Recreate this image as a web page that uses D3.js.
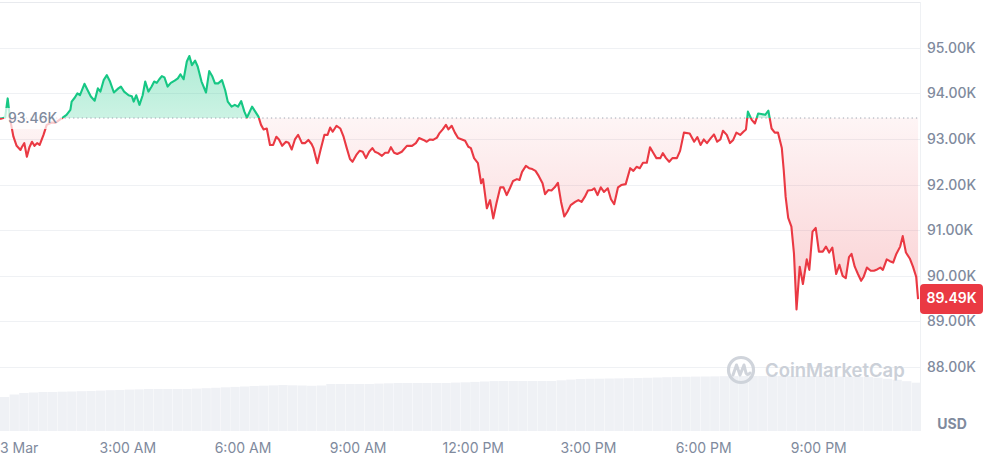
<!DOCTYPE html>
<html><head><meta charset="utf-8">
<script src="https://cdn.jsdelivr.net/npm/d3@7"></script>
<style>
html,body{margin:0;padding:0;background:#fff;overflow:hidden}
svg{display:block;font-family:Inter,"Noto Sans",sans-serif}
</style></head><body>
<svg id="chart" width="985" height="456"></svg>
<script>
// minutes after 00:00 on 3 Mar (negative = 2 Mar)
const minutes = [
-19,-11,-7,-3,2,7,13,15,19,23,27,
31,35,39,43,46,49,54,62,67,74,
78,85,91,93,98,102,106,113,118,123,
129,134,138,143,148,153,159,166,170,175,
182,187,190,194,199,204,208,213,218,222,
226,230,234,238,243,248,254,259,263,268,
273,277,281,286,290,296,303,308,313,317,
322,328,333,337,343,348,353,358,363,367,
370,375,380,385,389,393,398,403,408,413,
417,422,428,432,437,442,447,453,458,463,
468,471,477,482,488,493,497,501,507,513,
518,523,528,532,538,543,548,553,558,563,
567,572,578,583,588,592,597,602,609,617,
625,631,636,643,648,653,658,664,668,673,
678,682,687,692,697,703,708,713,717,722,
728,733,736,742,747,752,757,763,768,773,
778,783,789,793,797,803,808,813,818,823,
829,833,838,843,848,853,858,863,868,873,
880,885,890,895,900,906,910,915,920,925,
931,936,941,947,952,959,966,971,976,981,
986,992,997,1002,1007,1013,1017,1022,1027,1032,
1039,1044,1050,1059,1066,1071,1076,1081,1086,1092,
1097,1102,1107,1111,1117,1122,1127,1132,1138,1143,
1147,1150,1156,1161,1166,1171,1177,1182,1187,1192,
1197,1203,1206,1209,1213,1218,1222,1226,1231,1236,
1242,1246,1251,1256,1261,1267,1272,1277,1282,1288,
1293,1298,1303,1308,1312,1317,1322,1327,1331,1336,
1342,1347,1352,1357,1361,1367,1372,1377,1382,1388,
1392,1397,1403,1408,1413,1416
];
// BTC price, USD
const prices = [
93440,93470,93890,93420,93050,92850,92760,92820,92910,92610,92820,
92940,92850,92910,92870,92980,93090,93310,93360,93350,93420,
93460,93530,93640,93820,93910,94000,93960,94210,94070,93930,
93840,94110,94040,94290,94400,94260,94020,94110,94150,94040,
93960,93940,93820,93960,93750,93960,94260,94040,94150,94260,
94230,94310,94380,94350,94150,94230,94280,94330,94420,94310,
94700,94820,94620,94720,94590,94260,94020,94490,94370,94220,
94220,94290,94070,93820,93710,93750,93710,93830,93600,93470,
93560,93710,93600,93490,93310,93210,93230,92870,92870,93050,
92990,92850,92940,92920,92770,92990,93090,92910,92910,92980,
92890,92800,92470,92760,93090,93090,93250,93160,93290,93230,
93050,92800,92560,92500,92650,92740,92720,92580,92720,92800,
92720,92690,92630,92700,92700,92820,92700,92670,92720,92850,
92850,92910,93020,92980,92940,92990,92980,93030,93130,93210,
93310,93210,93290,93140,93020,92990,92960,92830,92800,92580,
92470,92030,92120,91480,91660,91260,91590,91940,91940,91770,
91920,92080,92120,92100,92280,92410,92360,92340,92300,92190,
92030,91790,91880,91870,91940,92040,91620,91300,91410,91550,
91620,91660,91620,91730,91870,91880,91920,91770,91940,91840,
91920,91680,91570,91940,91990,92010,92360,92300,92390,92360,
92480,92480,92820,92700,92580,92580,92690,92580,92500,92580,
92580,92740,93140,93120,92940,93040,92870,92990,92910,93020,
93100,92940,92990,93180,93090,92910,92980,93140,93090,93160,
93210,93600,93420,93340,93560,93550,93530,93620,93230,93140,
93140,92800,92320,91730,91270,91080,90490,89260,90200,89820,
90360,90130,90970,91050,90530,90530,90640,90510,90620,90040,
90240,90000,89950,90410,90480,90200,90040,89890,89980,90180,
90110,90110,90140,90180,90130,90360,90320,90290,90480,90640,
90870,90510,90380,90200,89980,89490
];
// 15-minute volume bars (rolling, billions USD), first bar starts at minute -19
const volumeStartMinute = -19;
const volumeStepMinutes = 15;
const volumes = [
34,36.5,38,38.5,39,39,39.3,39.5,39.8,40,
40.4,40.8,41,41.4,41.6,42,42,42,42,42,
42.4,42.8,43.2,43.7,44.1,44.5,45,45.3,45.6,46,
45.7,45.5,45.2,45.5,47,47,47,47,47,47.4,
47.7,48,48,48,48,48,48,48.4,48.7,49.1,
49.5,49.9,50,50,50,50,50,50,50.7,51.4,
52,52.2,52.3,52.5,52.6,52.8,53,53.2,53.5,53.8,
54.1,54.2,54.4,54.5,54.6,54.8,54.9,55,55,55,
55,55,55,55,54.9,54.8,54.6,54.5,54.3,54.2,
54.1,53.3,52.2,51.2,49.8,48.3
];
const openPrice = 93460;
const yTicks = [88000, 89000, 90000, 91000, 92000, 93000, 94000, 95000];
const gridPrices = [88000, 89000, 90000, 91000, 92000, 93000, 94000, 95000, 96000];
const xTickMinutes = [0, 180, 360, 540, 720, 900, 1080, 1260];
const xTickLabels = ["3 Mar", "3:00 AM", "6:00 AM", "9:00 AM", "12:00 PM", "3:00 PM", "6:00 PM", "9:00 PM"];

const GREEN = "#16c784", RED = "#ea3943", TEXT = "#808a9d";
const W = 920, PLOT_BOTTOM = 431;
const base = Date.UTC(2025, 2, 3, 0, 0);
const toDate = m => new Date(base + m * 60000);

const data = minutes.slice(0, Math.min(minutes.length, prices.length)).map((m, i) => ({t: toDate(m), p: prices[i]}));
const lastPrice = data[data.length - 1].p;

const x = d3.scaleUtc().domain([toDate(-19), toDate(1419)]).range([0, W]);
const y = d3.scaleLinear().domain([87000, 96000]).range([412.6, 2.2]);
const vy = d3.scaleLinear().domain([0, 60]).range([PLOT_BOTTOM, PLOT_BOTTOM - 60]);

const svg = d3.select("#chart");
const defs = svg.append("defs");
const by = y(openPrice);

defs.append("clipPath").attr("id", "plot").append("rect").attr("x", 0).attr("y", 0).attr("width", W).attr("height", PLOT_BOTTOM);
defs.append("clipPath").attr("id", "above").append("rect").attr("x", 0).attr("y", 0).attr("width", W).attr("height", by);
defs.append("clipPath").attr("id", "below").append("rect").attr("x", 0).attr("y", by).attr("width", W).attr("height", PLOT_BOTTOM - by);

const gG = defs.append("linearGradient").attr("id", "gGreen").attr("gradientUnits", "userSpaceOnUse")
  .attr("x1", 0).attr("x2", 0).attr("y1", y(95000)).attr("y2", by);
gG.append("stop").attr("offset", 0).attr("stop-color", GREEN).attr("stop-opacity", 0.36);
gG.append("stop").attr("offset", 1).attr("stop-color", GREEN).attr("stop-opacity", 0.22);
const gR = defs.append("linearGradient").attr("id", "gRed").attr("gradientUnits", "userSpaceOnUse")
  .attr("x1", 0).attr("x2", 0).attr("y1", by).attr("y2", y(89300));
gR.append("stop").attr("offset", 0).attr("stop-color", RED).attr("stop-opacity", 0.05);
gR.append("stop").attr("offset", 1).attr("stop-color", RED).attr("stop-opacity", 0.24);

// grid
svg.append("g").selectAll("line").data(gridPrices).join("line")
  .attr("x1", 0).attr("x2", W).attr("y1", d => Math.round(y(d)) + 0.5).attr("y2", d => Math.round(y(d)) + 0.5)
  .attr("stroke", d => d === 96000 ? "#e8eaee" : "#eff1f4").attr("stroke-width", 1);
// right border
svg.append("line").attr("x1", W + 0.5).attr("x2", W + 0.5).attr("y1", 2).attr("y2", PLOT_BOTTOM)
  .attr("stroke", "#eff1f4");

// volume bars
svg.append("g").attr("clip-path", "url(#plot)").selectAll("rect").data(volumes).join("rect")
  .attr("x", (d, i) => x(toDate(volumeStartMinute + i * volumeStepMinutes)))
  .attr("width", (d, i) => x(toDate(volumeStartMinute + (i + 1) * volumeStepMinutes)) - x(toDate(volumeStartMinute + i * volumeStepMinutes)) - 0.3)
  .attr("y", d => vy(d)).attr("height", d => PLOT_BOTTOM - vy(d))
  .attr("fill", "#eff1f5");

// watermark
const wm = svg.append("g").attr("transform", "translate(741,370)").attr("opacity", 0.9);
wm.append("circle").attr("r", 12.5).attr("fill", "none").attr("stroke", "#cbd0d8").attr("stroke-width", 3.2);
wm.append("path").attr("d", "M-8,5 L-4.5,-5 L-1,5 L3,-5 L5,3 Q6.5,6 9,3")
  .attr("fill", "none").attr("stroke", "#cbd0d8").attr("stroke-width", 3).attr("stroke-linejoin", "round").attr("stroke-linecap", "round");
svg.append("text").attr("x", 765).attr("y", 377).text("CoinMarketCap")
  .attr("font-size", 18.5).attr("font-weight", 600).attr("fill", "#cbd0d8");

// areas
const area = d3.area().x(d => x(d.t)).y0(by).y1(d => y(d.p));
svg.append("path").datum(data).attr("d", area).attr("fill", "url(#gGreen)").attr("clip-path", "url(#above)");
svg.append("path").datum(data).attr("d", area).attr("fill", "url(#gRed)").attr("clip-path", "url(#below)");

// baseline
svg.append("line").attr("x1", 0).attr("x2", W).attr("y1", by).attr("y2", by)
  .attr("stroke", "#9ea5b1").attr("stroke-width", 1).attr("stroke-dasharray", "1.3,3");

// lines
const line = d3.line().x(d => x(d.t)).y(d => y(d.p));
svg.append("path").datum(data).attr("d", line).attr("fill", "none").attr("stroke", GREEN)
  .attr("stroke-width", 2.1).attr("stroke-linejoin", "round").attr("clip-path", "url(#above)");
svg.append("path").datum(data).attr("d", line).attr("fill", "none").attr("stroke", RED)
  .attr("stroke-width", 2.1).attr("stroke-linejoin", "round").attr("clip-path", "url(#below)");

// open price label
svg.append("rect").attr("x", 4).attr("y", by - 10).attr("width", 58).attr("height", 21)
  .attr("fill", "#fff").attr("opacity", 0.72);
svg.append("text").attr("x", 8).attr("y", by + 1).attr("dominant-baseline", "middle")
  .attr("font-size", 14).attr("font-weight", 500).attr("fill", TEXT)
  .text((openPrice / 1000).toFixed(2) + "K");

// y axis
const yAxis = d3.axisRight(y).tickValues(yTicks).tickSize(0).tickPadding(7)
  .tickFormat(d => (d / 1000).toFixed(2) + "K");
const gy = svg.append("g").attr("transform", `translate(${W},0)`).call(yAxis);
gy.select(".domain").remove();
gy.selectAll("text").attr("font-family", "Inter, 'Noto Sans', sans-serif").attr("font-size", 14)
  .attr("font-weight", 500).attr("fill", TEXT);

// last price badge
const ly = y(lastPrice);
svg.append("rect").attr("x", W).attr("y", ly - 15).attr("width", 63).attr("height", 30).attr("rx", 4).attr("fill", RED);
svg.append("text").attr("x", W + 31.5).attr("y", ly + 0.5).attr("text-anchor", "middle").attr("dominant-baseline", "middle")
  .attr("font-size", 14).attr("font-weight", 600).attr("fill", "#fff").text((lastPrice / 1000).toFixed(2) + "K");

// USD
svg.append("text").attr("x", 952).attr("y", 429).attr("text-anchor", "middle")
  .attr("font-size", 14).attr("font-weight", 700).attr("fill", TEXT).text("USD");

// x axis
const xAxis = d3.axisBottom(x).tickValues(xTickMinutes.map(toDate)).tickSize(0).tickPadding(0)
  .tickFormat((d, i) => xTickLabels[i]);
const gx = svg.append("g").attr("transform", `translate(0,${PLOT_BOTTOM})`).call(xAxis);
gx.select(".domain").remove();
gx.selectAll("text").attr("font-family", "Inter, 'Noto Sans', sans-serif").attr("font-size", 14)
  .attr("font-weight", 400).attr("fill", TEXT).attr("dy", null).attr("y", 21.5);
gx.selectAll(".tick").each(function() {
  const t = d3.select(this).select("text").node();
  const bb = t.getBBox();
  const tr = this.transform.baseVal.consolidate().matrix.e;
  if (tr + bb.x < 0) d3.select(t).attr("text-anchor", "start").attr("x", -tr);
});
</script>
</body></html>
